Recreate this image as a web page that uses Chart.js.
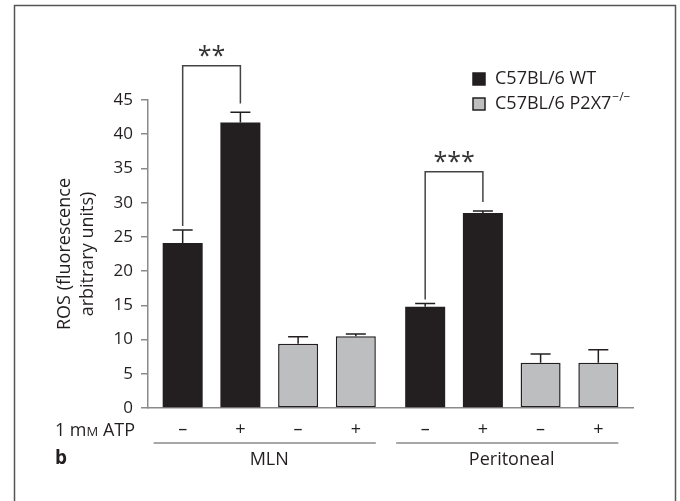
<!DOCTYPE html>
<html>
<head>
<meta charset="utf-8">
<script src="https://cdn.jsdelivr.net/npm/chart.js@4"></script>
<style>
html, body { margin: 0; padding: 0; background: #fff; }
</style>
</head>
<body>
<canvas id="myChart" width="680" height="501"></canvas>
<script>
// groups on the x axis and the two mouse strains
var groups = ['MLN', 'Peritoneal'];
var strains = ['C57BL/6 WT', 'C57BL/6 P2X7'];
var atpLabels = ['–', '+', '–', '+'];

// ROS values (group order: MLN, Peritoneal)
var wtNoAtp = [24.1, 14.8];
var wtAtp = [41.7, 28.5];
var koNoAtp = [9.4, 6.6];
var koAtp = [10.5, 6.6];

// error bars (upper half only)
var wtNoAtpErr = [1.9, 0.45];
var wtAtpErr = [1.5, 0.3];
var koNoAtpErr = [1.0, 1.3];
var koAtpErr = [0.3, 1.9];

// significance marks between WT - and WT +
var stars = ['**', '***'];
var bracketTop = [50, 34.5];

var yMin = 0, yMax = 45, yStep = 5;

var black = '#231f20';
var grey = '#bdbec0';
var axisGrey = '#8a8a8a';
var fontName = '"Open Sans", sans-serif';

var errors = [wtNoAtpErr, wtAtpErr, koNoAtpErr, koAtpErr];

var extras = {
    id: 'extras',
    afterDatasetsDraw: function(chart) {
        var ctx = chart.ctx;
        var y = chart.scales.y;
        ctx.save();
        ctx.strokeStyle = black;
        ctx.lineWidth = 1.5;
        chart.data.datasets.forEach(function(ds, d) {
            chart.getDatasetMeta(d).data.forEach(function(bar, i) {
                var top = y.getPixelForValue(ds.data[i] + errors[d][i]);
                ctx.beginPath();
                ctx.moveTo(bar.x, bar.y);
                ctx.lineTo(bar.x, top);
                ctx.moveTo(bar.x - 10, top);
                ctx.lineTo(bar.x + 10, top);
                ctx.stroke();
            });
        });
        ctx.restore();
    },
    afterDraw: function(chart) {
        var ctx = chart.ctx;
        var area = chart.chartArea;
        var y = chart.scales.y;
        var ds = chart.data.datasets;
        ctx.save();

        // +/- ATP row
        ctx.fillStyle = black;
        ctx.font = '18px ' + fontName;
        ctx.textAlign = 'center';
        ctx.textBaseline = 'middle';
        var rowY = area.bottom + 22;
        for (var d = 0; d < 4; d++) {
            chart.getDatasetMeta(d).data.forEach(function(bar) {
                ctx.fillText(atpLabels[d], bar.x, rowY);
            });
        }

        // "1 mM ATP" with small-cap M
        var w1 = ctx.measureText('1 m').width;
        var w3 = ctx.measureText(' ATP').width;
        ctx.font = '13px ' + fontName;
        var w2 = ctx.measureText('M').width;
        var x0 = 135 - (w1 + w2 + w3);
        ctx.textAlign = 'left';
        ctx.textBaseline = 'alphabetic';
        ctx.font = '18px ' + fontName;
        ctx.fillText('1 m', x0, rowY + 6);
        ctx.font = '13px ' + fontName;
        ctx.fillText('M', x0 + w1, rowY + 6);
        ctx.font = '18px ' + fontName;
        ctx.fillText(' ATP', x0 + w1 + w2, rowY + 6);

        // lines under each group
        ctx.strokeStyle = axisGrey;
        ctx.lineWidth = 1.5;
        groups.forEach(function(g, i) {
            var first = chart.getDatasetMeta(0).data[i];
            var last = chart.getDatasetMeta(3).data[i];
            ctx.beginPath();
            ctx.moveTo(first.x - first.width / 2 - 9, area.bottom + 35);
            ctx.lineTo(last.x + last.width / 2, area.bottom + 35);
            ctx.stroke();
        });

        // significance brackets
        ctx.strokeStyle = '#444';
        ctx.lineWidth = 1.5;
        groups.forEach(function(g, i) {
            var a = chart.getDatasetMeta(0).data[i];
            var b = chart.getDatasetMeta(1).data[i];
            var topPx = y.getPixelForValue(bracketTop[i]);
            var leftEnd = y.getPixelForValue(ds[0].data[i] + wtNoAtpErr[i] + 0.6);
            var rightEnd = y.getPixelForValue(ds[1].data[i] + wtAtpErr[i] + 1.3);
            ctx.beginPath();
            ctx.moveTo(a.x, leftEnd);
            ctx.lineTo(a.x, topPx);
            ctx.lineTo(b.x, topPx);
            ctx.lineTo(b.x, rightEnd);
            ctx.stroke();
            ctx.fillStyle = '#333';
            ctx.font = '25px ' + fontName;
            ctx.textAlign = 'center';
            ctx.textBaseline = 'alphabetic';
            ctx.fillText(stars[i], (a.x + b.x) / 2, topPx - 2);
        });

        // legend
        var legY = [79, 104];
        ctx.textAlign = 'left';
        ctx.textBaseline = 'middle';
        strains.forEach(function(s, i) {
            var dset = ds[i * 2];
            ctx.fillStyle = dset.backgroundColor;
            ctx.fillRect(473, legY[i] - 6, 12, 12);
            ctx.strokeStyle = black;
            ctx.lineWidth = 1.5;
            ctx.strokeRect(473, legY[i] - 6, 12, 12);
            ctx.fillStyle = black;
            ctx.font = '18px ' + fontName;
            ctx.fillText(s, 495, legY[i]);
            if (i === 1) {
                var w = ctx.measureText(s).width;
                ctx.font = '12px ' + fontName;
                ctx.fillText('−/−', 495 + w + 1, legY[i] - 6);
            }
        });

        // panel letter
        ctx.fillStyle = black;
        ctx.font = 'bold 19px ' + fontName;
        ctx.fillText('b', 55, area.bottom + 51);

        // panel frame
        ctx.strokeStyle = '#555';
        ctx.lineWidth = 1.5;
        ctx.strokeRect(14.5, 5.5, 661, 600);
        ctx.restore();
    }
};

var ctx = document.getElementById('myChart');
var myChart = new Chart(ctx, {
    type: 'bar',
    data: {
        labels: groups,
        datasets: [
            { label: 'WT -ATP', data: wtNoAtp, backgroundColor: black, borderWidth: 0 },
            { label: 'WT +ATP', data: wtAtp, backgroundColor: black, borderWidth: 0 },
            { label: 'P2X7 -ATP', data: koNoAtp, backgroundColor: grey, borderColor: black, borderWidth: 1.5, borderSkipped: false },
            { label: 'P2X7 +ATP', data: koAtp, backgroundColor: grey, borderColor: black, borderWidth: 1.5, borderSkipped: false }
        ]
    },
    options: {
        responsive: false,
        animation: false,
        devicePixelRatio: 1,
        categoryPercentage: 0.952,
        barPercentage: 0.693,
        layout: { padding: { top: 100, right: 47, bottom: 0, left: 0 } },
        plugins: {
            legend: { display: false },
            tooltip: { enabled: false }
        },
        scales: {
            x: {
                grid: { display: false },
                border: { color: axisGrey, width: 1.5 },
                ticks: { color: black, font: { family: fontName, size: 18 }, padding: 33 },
                afterFit: function(scale) { scale.height = 93; }
            },
            y: {
                min: yMin,
                max: yMax,
                grid: { drawOnChartArea: false, tickLength: 7, color: axisGrey, lineWidth: 1.5 },
                border: { color: axisGrey, width: 1.5 },
                ticks: { stepSize: yStep, padding: 8, color: black, font: { family: fontName, size: 17 } },
                title: {
                    display: true,
                    text: ['ROS (fluorescence', 'arbitrary units)'],
                    color: black,
                    font: { family: fontName, size: 18, lineHeight: 1.3 },
                    padding: { top: 53, bottom: 0 }
                },
                afterFit: function(scale) { scale.width = 148; }
            }
        }
    },
    plugins: [extras]
});
</script>
</body>
</html>
